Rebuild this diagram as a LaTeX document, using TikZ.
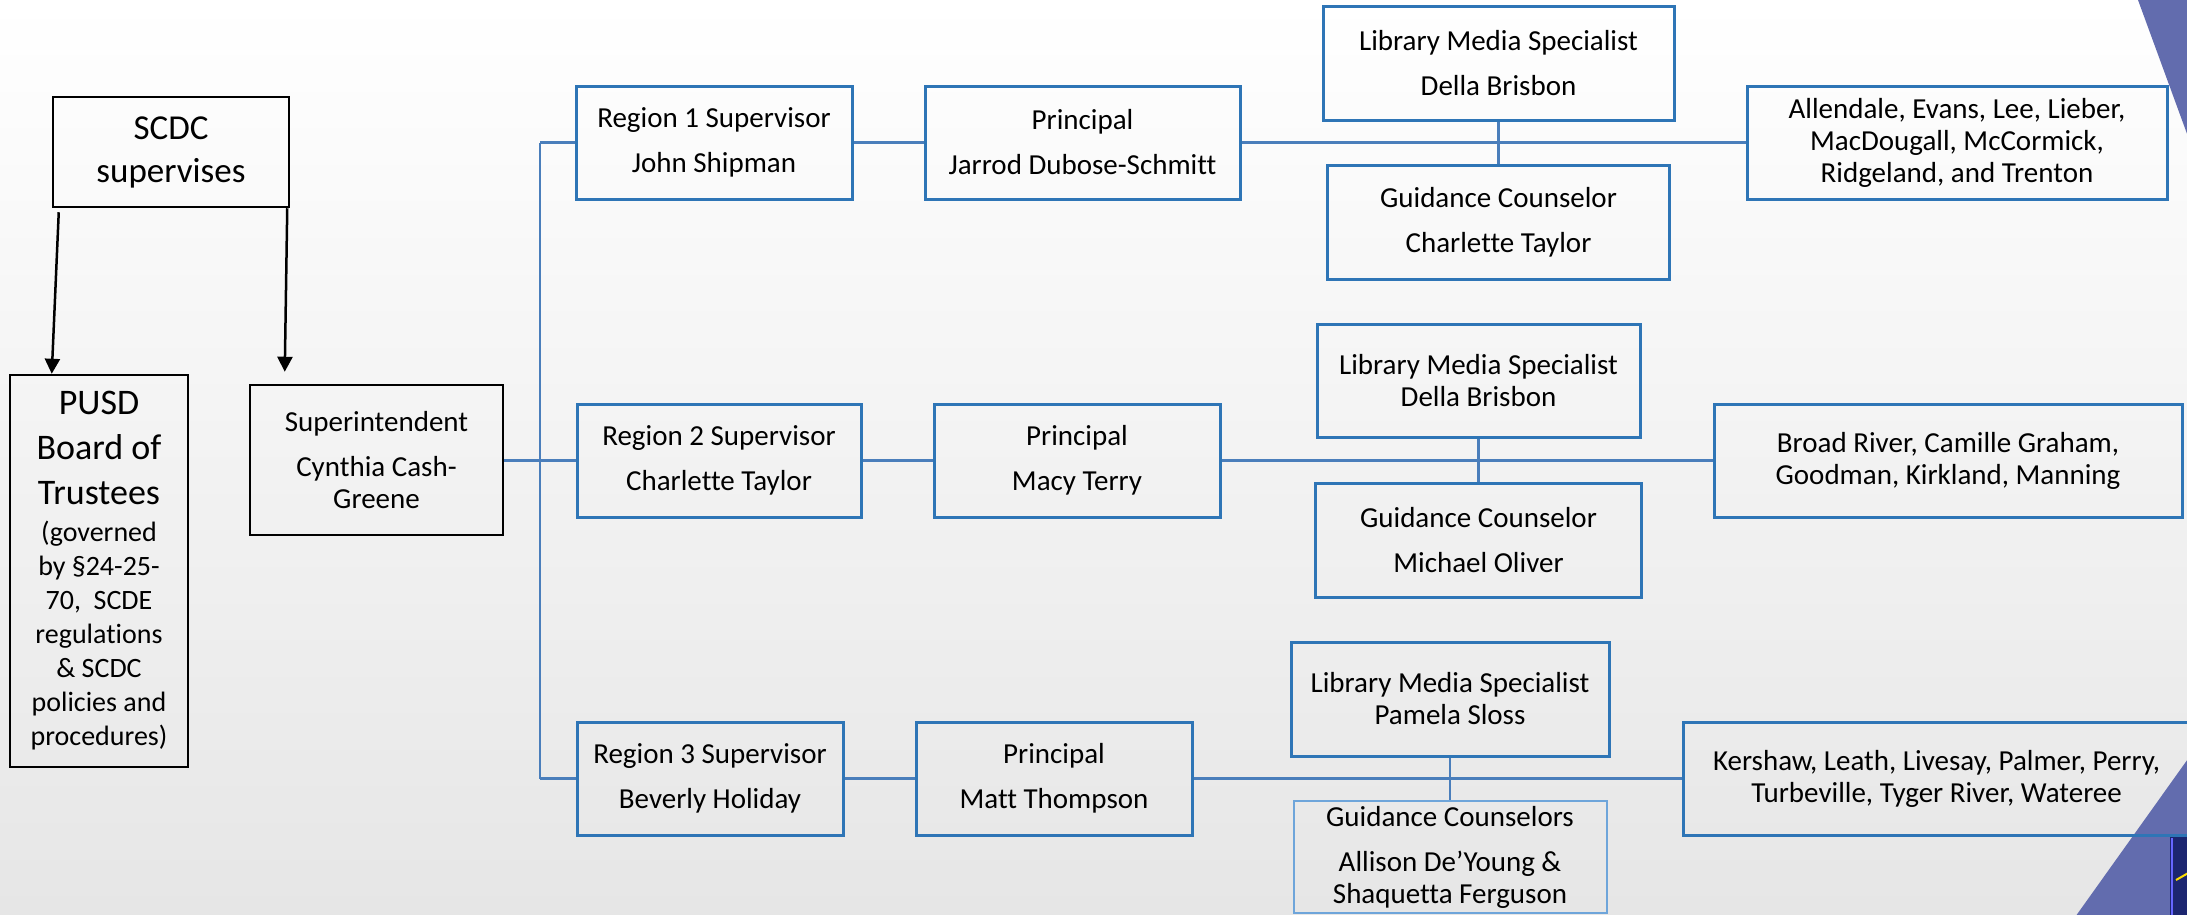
\documentclass[tikz,border=0pt]{standalone}
\usepackage{fontspec}
\setmainfont{Carlito}[Ligatures=NoCommon]
\usetikzlibrary{arrows.meta,calc}
\definecolor{boxblue}{RGB}{46,117,182}
\definecolor{lineblue}{RGB}{74,126,187}
\definecolor{lightblue}{RGB}{110,165,218}
\definecolor{decoblue}{RGB}{98,108,174}
\definecolor{bggray}{RGB}{230,230,230}
\definecolor{navy}{RGB}{28,38,112}
\begin{document}
\begin{tikzpicture}[x=1pt,y=-1pt,
  bbox/.style={draw=black, line width=2.5pt, inner sep=0pt, align=flush center},
  bluebox/.style={draw=boxblue, line width=3pt, inner sep=0pt, align=flush center},
  f45/.style={font={\fontsize{29}{45}\selectfont\parindent=0pt}},
  f32/.style={font={\fontsize{29}{32}\selectfont\parindent=0pt}},
  conn/.style={draw=lineblue, line width=3pt},
  arr/.style={draw=black, line width=2.5pt, -{Triangle[width=15pt,length=15pt]}}
]
\useasboundingbox (0,0) rectangle (2187,914);
\clip (0,0) rectangle (2187,914);
% background
\shade[top color=white, bottom color=bggray] (0,0) rectangle (2187,914);
\fill[decoblue] (2138,0) -- (2190,0) -- (2190,142) -- cycle;
\fill[decoblue] (2190,756) -- (2190,920) -- (2073,920) -- cycle;
\fill[navy] (2170,835) rectangle (2192,920);
\draw[blue!60!white, line width=1.5pt] (2172,838) -- (2172,920);
\draw[yellow!80!orange, line width=2pt] (2176,880) -- (2190,872);

% left part
\node[bbox, minimum width=236pt, minimum height=110pt, text width=228pt,
      font={\fontsize{35}{43}\selectfont\parindent=0pt}] (scdc) at (171,152) {SCDC\par supervises};
\node[bbox, minimum width=178pt, minimum height=392pt, text width=172pt,
      font={\fontsize{36}{45}\selectfont\parindent=0pt}] (pusd) at (99,571)
  {PUSD\par Board of\par Trustees\par\vspace{3pt}\fontsize{28}{34}\selectfont (governed\par by §24-25-\par 70,~~SCDE\par regulations\par \&~SCDC\par policies and\par procedures)\par};
\node[bbox, f32, minimum width=253pt, minimum height=150pt, text width=245pt] (sup) at (376.5,460)
  {Superintendent\par\vspace{13pt}Cynthia Cash-\par Greene};

\draw[arr] ([shift={(7,4)}]scdc.south west) -- ([shift={(43,0)}]pusd.north west);
\draw[arr] ([shift={(-3,0)}]scdc.south east) -- ([shift={(36,-12)}]sup.north west);

% region 1
\node[bluebox, f45, minimum width=276pt, minimum height=113pt, text width=268pt] (r1) at (714,142.5) {Region 1 Supervisor\par John Shipman};
\node[bluebox, f45, minimum width=315pt, minimum height=113pt, text width=307pt] (p1) at (1082.5,142.5) {Principal\par Jarrod Dubose-Schmitt};
\node[bluebox, f45, minimum width=351pt, minimum height=114pt, text width=343pt] (l1) at (1498.5,63) {Library Media Specialist\par Della Brisbon};
\node[bluebox, f45, minimum width=342pt, minimum height=114pt, text width=334pt] (g1) at (1498.5,222) {Guidance Counselor\par Charlette Taylor};
\node[bluebox, f32, minimum width=420pt, minimum height=113pt, text width=412pt] (s1) at (1957,142.5) {Allendale, Evans, Lee, Lieber,\par MacDougall, McCormick,\par Ridgeland, and Trenton};

% region 2
\node[bluebox, f45, minimum width=284pt, minimum height=113pt, text width=276pt] (r2) at (719,460.5) {Region 2 Supervisor\par Charlette Taylor};
\node[bluebox, f45, minimum width=286pt, minimum height=113pt, text width=278pt] (p2) at (1077,460.5) {Principal\par Macy Terry};
\node[bluebox, f32, minimum width=323pt, minimum height=113pt, text width=315pt] (l2) at (1478.5,380.5) {Library Media Specialist\par Della Brisbon};
\node[bluebox, f45, minimum width=326pt, minimum height=114pt, text width=318pt] (g2) at (1478.5,540) {Guidance Counselor\par Michael Oliver};
\node[bluebox, f32, minimum width=468pt, minimum height=113pt, text width=460pt] (s2) at (1948,460.5) {Broad River, Camille Graham,\par Goodman, Kirkland, Manning};

% region 3
\node[bluebox, f45, minimum width=266pt, minimum height=113pt, text width=258pt] (r3) at (710,778.5) {Region 3 Supervisor\par Beverly Holiday};
\node[bluebox, f45, minimum width=276pt, minimum height=113pt, text width=268pt] (p3) at (1054,778.5) {Principal\par Matt Thompson};
\node[bluebox, f32, minimum width=318pt, minimum height=114pt, text width=310pt] (l3) at (1450,699) {Library Media Specialist\par Pamela Sloss};
\node[bluebox, f32, draw=lightblue, line width=2pt, minimum width=313pt, minimum height=112pt, text width=305pt] (g3) at (1450,857) {Guidance Counselors\par\vspace{13pt}Allison De’Young \&\par Shaquetta Ferguson};
\node[bluebox, f32, minimum width=507pt, minimum height=113pt, text width=499pt] (s3) at (1936.5,778.5) {Kershaw, Leath, Livesay, Palmer, Perry,\par Turbeville, Tyger River, Wateree};

% connectors
\coordinate (tj1) at (540,142.5);
\coordinate (tj2) at (540,460);
\coordinate (tj3) at (540,778.5);
\draw[conn, line width=2.5pt] (tj1) -- (tj3);
\draw[conn] (sup.east) -- (tj2);
\draw[conn] (tj1) -- (r1.west);
\draw[conn] (tj2) -- (tj2 -| r2.west);
\draw[conn] (tj3) -- (r3.west);
\draw[conn] (r1) -- (p1);
\draw[conn] (p1) -- (s1);
\draw[conn, line width=2.5pt] (l1.south) -- (l1.south |- g1.north);
\draw[conn] (r2) -- (p2);
\draw[conn] (p2) -- (s2);
\draw[conn, line width=2.5pt] (l2.south) -- (l2.south |- g2.north);
\draw[conn] (r3) -- (p3);
\draw[conn] (p3) -- (s3);
\draw[conn, line width=2.5pt] (l3.south) -- (l3.south |- g3.north);
\end{tikzpicture}
\end{document}
